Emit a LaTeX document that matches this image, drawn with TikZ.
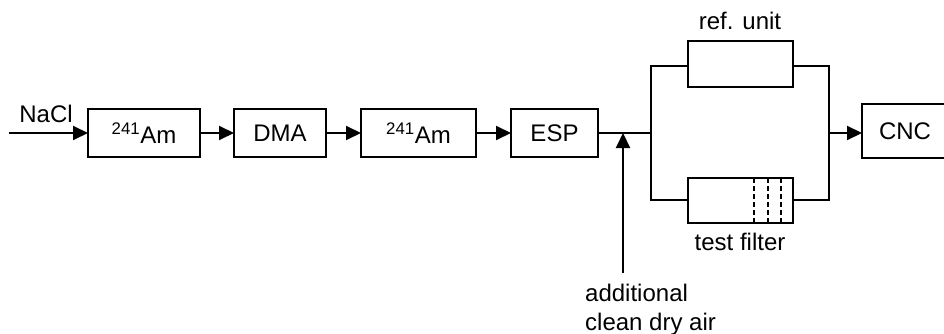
\documentclass[tikz,border=0pt]{standalone}
\usepackage{fontspec}
\setmainfont{Liberation Sans}
\usetikzlibrary{arrows.meta}
\begin{document}
\begin{tikzpicture}[x=1pt,y=-1pt,
  every node/.style={font=\fontsize{24}{29}\selectfont},
  box/.style={draw,line width=2pt,inner sep=0pt,outer sep=0pt,anchor=north west},
  conn/.style={line width=2pt},
  arr/.style={conn,-{Triangle[length=15pt,width=14pt]}},
  lbl/.style={inner sep=0pt}]
\useasboundingbox (0,0) rectangle (944,334);
\node[box,minimum width=112pt,minimum height=48pt] (am1) at (88,109) {\textsuperscript{241}Am};
\node[box,minimum width=92pt,minimum height=48pt] (dma) at (234,109) {DMA};
\node[box,minimum width=115pt,minimum height=48pt] (am2) at (361,109) {\textsuperscript{241}Am};
\node[box,minimum width=87pt,minimum height=48pt] (esp) at (511,109) {ESP};
\node[box,minimum width=105pt,minimum height=46pt] (ref) at (688,41) {};
\node[box,minimum width=105pt,minimum height=45pt] (tf) at (688,178) {};
\node[box,minimum width=86pt,minimum height=54pt] (cnc) at (862,104) {CNC};
\node[lbl,anchor=base] (nacl) at (46,122) {NaCl};
\node[lbl,anchor=base] (reflbl) at (740,30) {ref. unit};
\node[lbl,anchor=base] (tflbl) at (740,250) {test filter};
\node[lbl,anchor=north west,align=left] (air) at (585,284) {additional\\clean dry air};
\coordinate (start) at (9,133);
\coordinate (j) at (651,133);
\coordinate (ja) at (623,133);
\coordinate (a0) at (623,273);
\coordinate (jt) at (651,66);
\coordinate (jb) at (651,200);
\coordinate (m) at (829,133);
\coordinate (mt) at (829,66);
\coordinate (mb) at (829,200);
\draw[arr] (start) -- (start -| am1.west);
\draw[arr] (am1.east) -- (dma.west);
\draw[arr] (dma.east) -- (am2.west);
\draw[arr] (am2.east) -- (esp.west);
\draw[conn] (esp.east) -- (j);
\draw[arr] (a0) -- (ja);
\draw[conn] (ref.west |- jt) -- (jt) -- (jb) -- (tf.west |- jb);
\draw[conn] (ref.east |- mt) -- (mt) -- (mb) -- (tf.east |- mb);
\draw[arr] (m) -- (cnc.west |- m);
\foreach \x in {754,768,781}
  \draw[line width=2pt,dash pattern=on 5pt off 3pt] (\x,178) -- (\x,223);
\end{tikzpicture}
\end{document}
